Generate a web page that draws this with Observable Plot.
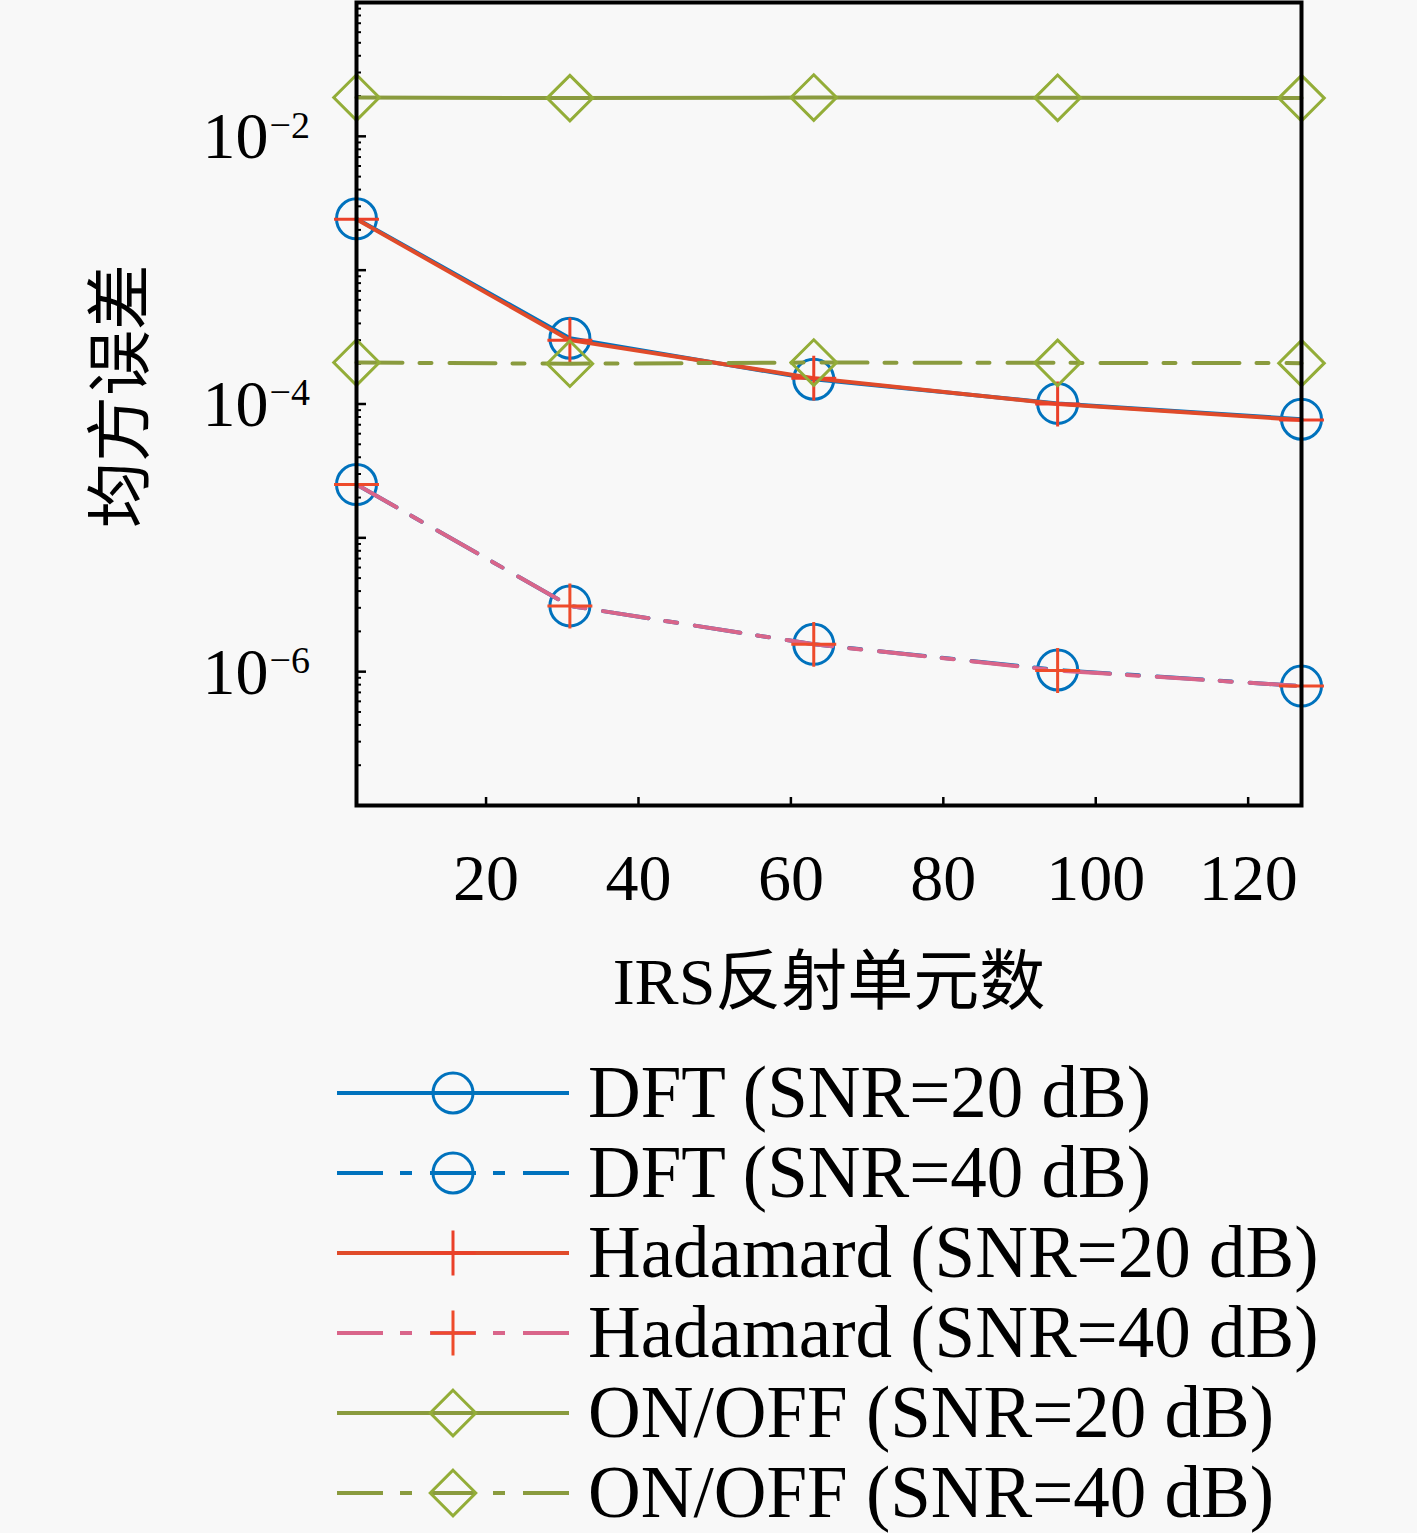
<!DOCTYPE html>
<html>
<head>
<meta charset="utf-8">
<script src="https://cdn.jsdelivr.net/npm/d3@7"></script>
<script src="https://cdn.jsdelivr.net/npm/@observablehq/plot@0.6"></script>
<style>
  html, body { margin: 0; padding: 0; background: #f8f8f8; }
  #chart svg, #legend svg { display: block; }
</style>
</head>
<body>
<div id="chart"></div>
<div id="legend"></div>
<script>
// ---- data ----
const N = [3, 31, 63, 95, 127];                       // IRS反射单元数
const dft20 = [2.42e-3, 3.1e-4, 1.53e-4, 1.01e-4, 7.7e-5];
const dft40 = [2.5e-5, 3.1e-6, 1.6e-6, 1.03e-6, 7.8e-7];
const had20 = [2.4e-3, 3.0e-4, 1.56e-4, 1.0e-4, 7.6e-5];
const had40 = [2.5e-5, 3.1e-6, 1.6e-6, 1.02e-6, 7.8e-7];
const onoff20 = [0.0195, 0.0193, 0.0195, 0.0194, 0.0193];
const onoff40 = [2.04e-4, 2.0e-4, 2.04e-4, 2.03e-4, 2.02e-4];

const seriesNames = [
  "DFT (SNR=20 dB)", "DFT (SNR=40 dB)",
  "Hadamard (SNR=20 dB)", "Hadamard (SNR=40 dB)",
  "ON/OFF (SNR=20 dB)", "ON/OFF (SNR=40 dB)"
];
const seriesValues = [dft20, dft40, had20, had40, onoff20, onoff40];

const xTicks = [20, 40, 60, 80, 100, 120];
const yTickExps = [-6, -4, -2];
const yMajor = [1e-7, 1e-6, 1e-5, 1e-4, 1e-3, 1e-2, 1e-1];
const yMinor = [];
for (let e = -7; e <= -2; e++) for (let m = 2; m <= 9; m++) yMinor.push(m * 10 ** e);

const xLabel = "IRS反射单元数";
const yLabel = "均方误差";

// ---- styles ----
const DASHDOT = "46,17,12,18";
const styles = [
  {line: "#0072BD", marker: "#0072BD", dash: null,    symbol: "circle",   r: 20},
  {line: "#0072BD", marker: "#0072BD", dash: DASHDOT, symbol: "circle",   r: 20},
  {line: "#E04B2A", marker: "#EA4029", dash: null,    symbol: "plus",     r: 14.5},
  {line: "#D9658A", marker: "#EE4B2B", dash: DASHDOT, symbol: "plus",     r: 14.5},
  {line: "#8A9B3E", marker: "#93AD38", dash: null,    symbol: "diamond2", r: 20.5},
  {line: "#8A9B3E", marker: "#93AD38", dash: DASHDOT, symbol: "diamond2", r: 20.5}
];

const SERIF = "'Liberation Serif', 'Times New Roman', serif";
const CJK = "'Liberation Serif', 'Noto Sans CJK SC', sans-serif";

const series = seriesNames.map((name, i) => ({
  name,
  rows: N.map((x, j) => ({x, y: seriesValues[i][j]})),
  style: styles[i]
}));

const W = 1417, H = 1050;
const mL = 356, mR = 116, mT = 2, mB = 245;
const frameW = W - mL - mR;

const marks = [];
// ticks (inside)
marks.push(Plot.tickX(xTicks, {x: d => d, insetTop: (H - mT - mB) - 8, stroke: "black", strokeWidth: 2.5}));
marks.push(Plot.tickY(yMajor, {y: d => d, insetRight: frameW - 10, stroke: "black", strokeWidth: 2.5}));
marks.push(Plot.tickY(yMinor, {y: d => d, insetRight: frameW - 5, stroke: "black", strokeWidth: 2}));

for (const s of series) {
  marks.push(Plot.line(s.rows, {
    x: "x", y: "y", stroke: s.style.line, strokeWidth: 4,
    strokeDasharray: s.style.dash || undefined
  }));
  marks.push(Plot.dot(s.rows, {
    x: "x", y: "y", symbol: s.style.symbol, r: s.style.r, fill: "none",
    stroke: s.style.marker, strokeWidth: 3
  }));
}

// tick labels
marks.push(Plot.text(xTicks, {x: d => d, frameAnchor: "bottom", dy: 94, text: d => String(d),
  textAnchor: "middle", fontSize: 66, fontFamily: SERIF, fill: "black"}));
marks.push(Plot.text(yTickExps, {y: d => 10 ** d, frameAnchor: "left", dx: -88, dy: 1, text: () => "10",
  textAnchor: "end", fontSize: 66, fontFamily: SERIF, fill: "black"}));
marks.push(Plot.text(yTickExps, {y: d => 10 ** d, frameAnchor: "left", dx: -87, dy: -11,
  text: d => "\u2212" + String(-d), textAnchor: "start", fontSize: 38, fontFamily: SERIF, fill: "black"}));

// axis titles
marks.push(Plot.text([xLabel], {frameAnchor: "bottom", dy: 198, text: d => d, textAnchor: "middle",
  fontSize: 66, fontFamily: CJK, fill: "black"}));
marks.push(Plot.text([yLabel], {frameAnchor: "left", dx: -235, dy: -8, rotate: -90, text: d => d,
  textAnchor: "middle", fontSize: 66, fontFamily: "'Noto Sans CJK SC', sans-serif", fill: "black"}));

marks.push(Plot.frame({stroke: "black", strokeWidth: 4}));

const chart = Plot.plot({
  width: W, height: H,
  marginLeft: mL, marginRight: mR, marginTop: mT, marginBottom: mB,
  style: {background: "#f8f8f8"},
  x: {domain: [N[0], N[N.length - 1]], axis: null},
  y: {type: "log", domain: [1e-7, 1e-1], axis: null},
  marks
});
document.getElementById("chart").appendChild(chart);

// ---- legend (below the plot SVG) ----
const LH = 1533 - H;
const leg = d3.select("#legend").append("svg")
  .attr("width", W).attr("height", LH)
  .style("background", "#f8f8f8");
const symMap = {circle: d3.symbolCircle, plus: d3.symbolPlus, diamond2: d3.symbolDiamond2};
series.forEach((s, i) => {
  const cy = 43 + 80 * i;
  const g = leg.append("g");
  g.append("line").attr("x1", 337).attr("x2", 569).attr("y1", cy).attr("y2", cy)
    .attr("stroke", s.style.line).attr("stroke-width", 4)
    .attr("stroke-dasharray", s.style.dash);
  g.append("path").attr("transform", `translate(453,${cy})`)
    .attr("d", d3.symbol().type(symMap[s.style.symbol]).size(Math.PI * s.style.r * s.style.r)())
    .attr("fill", "none").attr("stroke", s.style.marker).attr("stroke-width", 3);
  g.append("text").attr("x", 588).attr("y", cy + 24)
    .attr("font-family", SERIF).attr("font-size", 73).attr("fill", "black")
    .text(s.name);
});
</script>
</body>
</html>
